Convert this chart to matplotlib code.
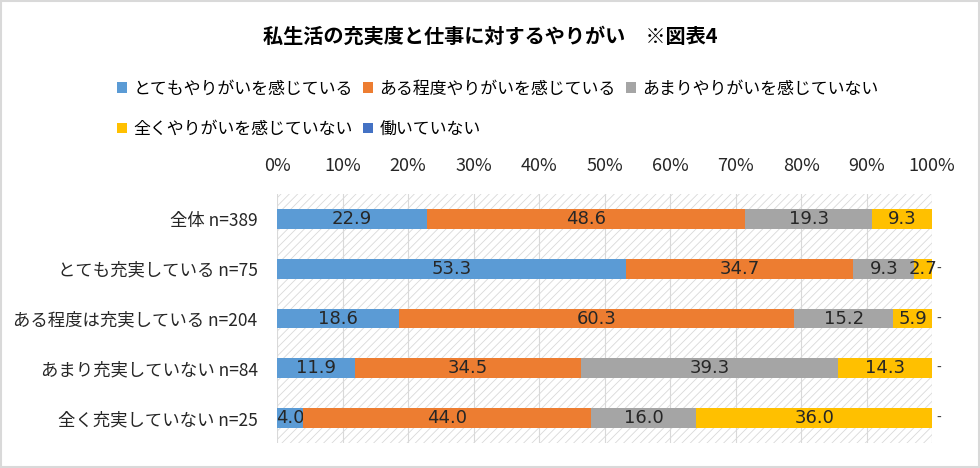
import matplotlib.pyplot as plt
from matplotlib.patches import Rectangle
import numpy as np

plt.rcParams['font.family'] = ['Noto Sans CJK JP', 'DejaVu Sans']
plt.rcParams['hatch.linewidth'] = 0.6

# data
groups = ["全体 n=389", "とても充実している n=75", "ある程度は充実している n=204",
          "あまり充実していない n=84", "全く充実していない n=25"]
series_names = ["とてもやりがいを感じている", "ある程度やりがいを感じている",
                "あまりやりがいを感じていない", "全くやりがいを感じていない", "働いていない"]
very = [22.9, 53.3, 18.6, 11.9, 4.0]
somewhat = [48.6, 34.7, 60.3, 34.5, 44.0]
not_much = [19.3, 9.3, 15.2, 39.3, 16.0]
not_at_all = [9.3, 2.7, 5.9, 14.3, 36.0]
not_working = [0, 0, 0, 0, 0]
colors = ["#5B9BD5", "#ED7D31", "#A5A5A5", "#FFC000", "#4472C4"]

fig = plt.figure(figsize=(9.8, 4.68), dpi=100)
ax = fig.add_axes([0.2827, 0.0534, 0.6684, 0.532])

# hatched background of plot area
ax.add_patch(Rectangle((0, 0), 1, 1, transform=ax.transAxes, fill=False,
                       hatch='////', edgecolor='#D9D9D9', lw=0, zorder=0))

y = np.arange(len(groups))
left = np.zeros(len(groups))
handles = []
all_series = [very, somewhat, not_much, not_at_all, not_working]
for name, vals, c in zip(series_names, all_series, colors):
    vals = np.array(vals)
    bars = ax.barh(y, vals, left=left, height=0.4, color=c, label=name, zorder=3)
    handles.append(bars)
    if vals.sum() > 0:
        ax.bar_label(bars, labels=[f"{v:.1f}" for v in vals], label_type='center',
                     fontsize=13, color='#262626', family=['DejaVu Sans'])
    else:
        ax.bar_label(bars, labels=['-'] * len(vals), padding=3, fontsize=10,
                     color='#404040')
    left += vals

ax.set_xlim(0, 100)
ax.set_ylim(len(groups) - 0.5, -0.5)
ax.set_yticks(y)
ax.set_yticklabels(groups, fontsize=12.5, color='#262626')
ax.set_xticks(np.arange(0, 101, 10))
ax.set_xticklabels([f"{t}%" for t in range(0, 101, 10)], fontsize=13, color='#262626')
ax.xaxis.tick_top()
ax.tick_params(axis='both', length=0)
ax.tick_params(axis='x', pad=14)
ax.tick_params(axis='y', pad=14)
ax.grid(axis='x', color='#D9D9D9', lw=0.8, zorder=1)
ax.set_axisbelow(True)
for s in ax.spines.values():
    s.set_visible(False)

# legend: row-wise order
order = [0, 3, 1, 4, 2]
fig.legend([handles[i] for i in order], [series_names[i] for i in order],
           ncol=3, loc='upper left', bbox_to_anchor=(0.104, 0.862),
           frameon=False, fontsize=12.2, handlelength=0.6, handleheight=0.6,
           handletextpad=0.35, columnspacing=0.62, labelspacing=1.3)

fig.text(0.5, 0.922, "私生活の充実度と仕事に対するやりがい　※図表4",
         ha='center', va='center', fontsize=14.5, fontweight='bold', color='#000000')

fig.patches.append(Rectangle((0.001, 0.002), 0.998, 0.996, transform=fig.transFigure,
                             fill=False, edgecolor='#D9D9D9', lw=1.5))

fig.savefig("out.png", dpi=100)
